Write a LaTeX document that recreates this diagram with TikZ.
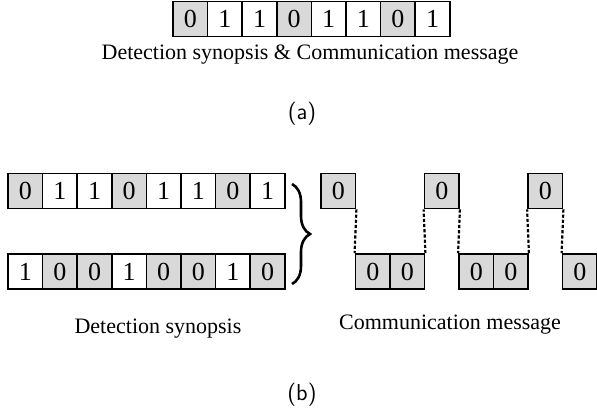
\documentclass[tikz,border=0pt]{standalone}
\usepackage{fontspec}
\setmainfont{Liberation Serif}
\usepackage{xcolor}
\usetikzlibrary{positioning, decorations.pathreplacing}

\definecolor{bitgray}{RGB}{217,217,217}
\tikzset{
	bitbox/.style={draw, line width=0.85pt, minimum width=17.3pt, minimum height=17.5pt, inner sep=0pt, font=\fontsize{13}{13}\selectfont},
	bit0/.style={bitbox, fill=bitgray},
	bit1/.style={bitbox, fill=white},
	hop/.style={line width=1.1pt, dash pattern=on 1.6pt off 1pt},
	caption/.style={font=\fontsize{11}{13}\selectfont, anchor=base},
	sublabel/.style={font=\sffamily\fontsize{11.5}{13}\selectfont, anchor=base},
}

\begin{document}
\begin{tikzpicture}[x=0.5pt, y=-0.5pt]
			\useasboundingbox (0,0) rectangle (597,414);

			% (a)
			\foreach \b [count=\i] in {0,1,1,0,1,1,0,1}
				\node [bit\b] (a\i) at ({173+34.6*(\i-0.5)},19) {\b};
			\node [caption] (capa) at (310,59) {Detection synopsis \& Communication message};
			\node [sublabel] (laba) at (302,119) {(a)};

			% (b)
			\foreach \b [count=\i] in {0,1,1,0,1,1,0,1}
				\node [bit\b] (s\i) at ({8+34.6*(\i-0.5)},191) {\b};
			\foreach \b [count=\i] in {1,0,0,1,0,0,1,0}
				\node [bit\b] (t\i) at ({8+34.6*(\i-0.5)},271.5) {\b};

			\coordinate (brtop) at (292,184);
			\coordinate (brbot) at (292,284);
			\draw [line width=1.3pt, decorate, decoration={brace, amplitude=9pt}] (brtop) to (brbot);

			\foreach \lvl [count=\i] in {191,271.5,271.5,191,271.5,271.5,191,271.5}
				\node [bit0] (m\i) at ({321+34.5*(\i-0.5)},\lvl) {0};
			\draw [hop] (m1.south east) to (m2.north west);
			\draw [hop] (m3.north east) to (m4.south west);
			\draw [hop] (m4.south east) to (m5.north west);
			\draw [hop] (m6.north east) to (m7.south west);
			\draw [hop] (m7.south east) to (m8.north west);

			\node [caption] (capd) at (158,333) {Detection synopsis};
			\node [caption] (capc) at (450,329) {Communication message};
			\node [sublabel] (labb) at (302,400) {(b)};
		\end{tikzpicture}
\end{document}
